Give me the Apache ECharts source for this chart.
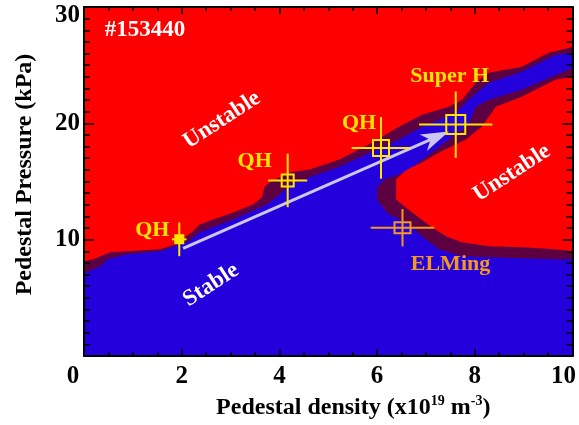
<!DOCTYPE html>
<html><head><meta charset="utf-8">
<script src="https://cdn.jsdelivr.net/npm/echarts@6/dist/echarts.min.js"></script>
<style>html,body{margin:0;padding:0;background:#fff}#c{width:579px;height:425px}</style>
</head><body><div id="c"></div>
<script>
// ---- data ----
const xTicks = [0, 2, 4, 6, 8, 10];
const yTicks = [10, 20, 30];
// outer edge of marginally stable band (stable + marginal)
const marginalRegion = [
  [0,0],[0,8.14],[0.19,8.31],[0.54,8.91],[0.89,9.00],[1.56,9.17],[1.87,9.60],[2.21,10.63],
  [2.37,11.31],[2.64,11.74],[3.05,12.34],[3.46,13.03],[3.64,13.63],[3.70,14.57],[3.80,14.91],
  [4.21,15.77],[4.62,16.03],[5.23,16.89],[5.90,18.34],[6.45,19.71],[6.92,20.74],[7.47,21.43],
  [7.74,22.03],[8.02,23.49],[8.29,24.34],[8.96,24.86],[9.51,26.06],[10,26.57],
  [10,24.0],[9.65,23.74],[8.96,22.29],[8.43,21.43],[8.14,19.71],[7.82,18.60],[7.27,17.49],
  [6.92,16.63],[6.60,16.03],[6.39,15.17],[6.39,13.46],[6.51,13.03],[6.72,12.34],[7.12,11.06],
  [7.41,10.29],[7.74,9.77],[8.29,9.43],[8.96,9.34],[9.65,9.17],[10,9.0],[10,0]
];
// stable region
const stableRegion = [
  [0,0],[0,7.11],[0.34,7.71],[0.48,8.31],[0.89,8.74],[1.56,9.00],[2.11,9.77],[2.37,10.63],
  [3.05,11.74],[3.74,13.03],[4.01,13.89],[4.21,14.74],[5.23,16.29],[5.90,17.57],[6.45,18.60],
  [6.92,19.71],[7.61,20.91],[7.94,22.29],[8.29,23.49],[8.96,24.43],[9.65,25.88],[10,26.06],
  [10,24.77],[8.96,22.89],[8.29,22.03],[8.02,21.43],[7.88,19.89],[7.47,18.60],[7.06,17.31],
  [6.80,16.46],[6.45,15.60],[6.15,15.17],[6.00,14.49],[6.00,13.46],[6.15,12.60],[6.25,12.17],
  [6.60,11.49],[6.92,10.29],[7.27,9.17],[7.74,8.57],[8.29,8.49],[8.96,8.40],[9.65,8.31],
  [10,8.31],[10,0]
];
const pointNames = ['QH', 'QH', 'QH', 'Super H', 'ELMing'];
const pointX = [1.95, 4.17, 6.08, 7.61, 6.52];
const pointY = [10.03, 15.09, 17.89, 19.89, 11.03];
const xErr = [0.15, 0.40, 0.60, 0.75, 0.65];
const yErr = [1.45, 2.30, 2.65, 2.85, 1.60];
const trendArrow = [[2.03, 9.26], [7.47, 19.29]];

// ---- styles ----
const FONT = '"Liberation Serif", "Times New Roman", serif';
const YEL = '#FFE600', ORG = '#F39A1E';
const markerStyles = [
  {color: YEL, w: 8, h: 8, filled: true, dx: -27, dy: -9},
  {color: YEL, w: 12, h: 12, filled: false, dx: -33, dy: -19},
  {color: YEL, w: 16, h: 16, filled: false, dx: -22, dy: -25},
  {color: YEL, w: 19, h: 19, filled: false, dx: -6, dy: -48},
  {color: ORG, w: 16, h: 11, filled: false, dx: 48, dy: 37}
];

const chart = echarts.init(document.getElementById('c'), null, {renderer: 'canvas'});

function polySeries(pts, color, z) {
  return {
    type: 'custom', coordinateSystem: 'cartesian2d', silent: true, z: z, clip: true,
    data: [[pts[0][0], pts[0][1]]],
    renderItem: (p, api) => ({
      type: 'polygon',
      shape: {points: pts.map(q => api.coord(q))},
      style: {fill: color}
    })
  };
}

const lab = (extra) => Object.assign({fontFamily: FONT, fontWeight: 'bold', fontSize: 25, color: '#000'}, extra || {});

const axisCommon = {
  type: 'value', z: 10,
  axisLine: {show: true, onZero: false, lineStyle: {color: '#000', width: 2}},
  splitLine: {show: false}
};

const option = {
  animation: false,
  backgroundColor: '#fff',
  grid: {left: 84, right: 5, top: 7, bottom: 68, backgroundColor: '#FF0000', show: true, borderWidth: 0},
  xAxis: [
    Object.assign({}, axisCommon, {
      position: 'bottom', min: xTicks[0], max: xTicks[xTicks.length - 1], interval: xTicks[1] - xTicks[0],
      axisTick: {show: true, inside: true, length: 7, lineStyle: {color: '#000', width: 1.5}},
      minorTick: {show: true, splitNumber: 4, length: 4, lineStyle: {color: '#000', width: 1.5}},
      axisLabel: lab({margin: 8, formatter: v => v === 0 ? '{m|0}' : (v === 10 ? '{n|10}' : String(v)),
        rich: {m: lab({padding: [0, 22, 0, 0]}), n: lab({padding: [0, 18, 0, 0]})}}),
      name: '{a|Pedestal density (x10}{s|19}{a| m}{s|-3}{a|)}',
      nameLocation: 'middle', nameGap: 38,
      nameTextStyle: {padding: [0, 0, 0, 50], rich: {
        a: {fontFamily: FONT, fontWeight: 'bold', fontSize: 24, color: '#000', lineHeight: 26, verticalAlign: 'bottom'},
        s: {fontFamily: FONT, fontWeight: 'bold', fontSize: 14, color: '#000', lineHeight: 26, verticalAlign: 'top'}
      }}
    }),
    Object.assign({}, axisCommon, {
      position: 'top', min: 0, max: 10, interval: 2,
      axisTick: {show: true, inside: true, length: 7, lineStyle: {color: '#000', width: 1.5}},
      minorTick: {show: true, splitNumber: 4, length: 4, lineStyle: {color: '#000', width: 1.5}},
      axisLabel: {show: false}
    })
  ],
  yAxis: [
    Object.assign({}, axisCommon, {
      position: 'left', min: 0, max: yTicks[yTicks.length - 1], interval: yTicks[1] - yTicks[0],
      axisTick: {show: true, inside: true, length: 10, lineStyle: {color: '#000', width: 1.5}},
      minorTick: {show: true, splitNumber: 10, length: 6, lineStyle: {color: '#000', width: 1.5}},
      axisLabel: lab({margin: 4, formatter: v => v === 0 ? '' : (v === 30 ? '{t|30}' : String(v)),
        rich: {t: lab({padding: [18, 0, 0, 0]})}}),
      name: 'Pedestal Pressure (kPa)', nameLocation: 'middle', nameGap: 47, nameRotate: 90,
      nameTextStyle: {fontFamily: FONT, fontWeight: 'bold', fontSize: 24, color: '#000', padding: [0, 0, 0, 14]}
    }),
    Object.assign({}, axisCommon, {
      position: 'right', min: 0, max: 30, interval: 10,
      axisTick: {show: true, inside: true, length: 10, lineStyle: {color: '#000', width: 1.5}},
      minorTick: {show: true, splitNumber: 10, length: 6, lineStyle: {color: '#000', width: 1.5}},
      axisLabel: {show: false}
    })
  ],
  graphic: [
    {type: 'text', x: 145, y: 30, z: 100, style: {text: '#153440', fill: '#fff', font: 'bold 23px ' + FONT, align: 'center', verticalAlign: 'middle'}},
    {type: 'text', x: 222, y: 120, z: 100, rotation: 33 * Math.PI / 180, style: {text: 'Unstable', fill: '#fff', font: 'bold 23px ' + FONT, align: 'center', verticalAlign: 'middle'}},
    {type: 'text', x: 211, y: 285, z: 100, rotation: 33 * Math.PI / 180, style: {text: 'Stable', fill: '#fff', font: 'bold 23px ' + FONT, align: 'center', verticalAlign: 'middle'}},
    {type: 'text', x: 512, y: 173, z: 100, rotation: 33 * Math.PI / 180, style: {text: 'Unstable', fill: '#fff', font: 'bold 23px ' + FONT, align: 'center', verticalAlign: 'middle'}}
  ],
  series: [
    polySeries(marginalRegion, '#5C0042', 2),
    polySeries(stableRegion, '#2300DC', 3),
    {
      type: 'custom', coordinateSystem: 'cartesian2d', silent: true, z: 5,
      data: [[trendArrow[0][0], trendArrow[0][1], trendArrow[1][0], trendArrow[1][1]]],
      renderItem: (p, api) => {
        const p1 = api.coord([api.value(0), api.value(1)]);
        const p2 = api.coord([api.value(2), api.value(3)]);
        const a = Math.atan2(p2[1] - p1[1], p2[0] - p1[0]);
        const cx = Math.cos(a), cy = Math.sin(a), nx = -cy, ny = cx;
        const L = 28, W = 9;
        const back = [p2[0] - L * cx, p2[1] - L * cy];
        const notch = [p2[0] - L * 0.72 * cx, p2[1] - L * 0.72 * cy];
        return {type: 'group', children: [
          {type: 'line', shape: {x1: p1[0], y1: p1[1], x2: notch[0], y2: notch[1]}, style: {stroke: '#CCC6F4', lineWidth: 3}},
          {type: 'polygon', shape: {points: [p2, [back[0] + nx * W, back[1] + ny * W], notch, [back[0] - nx * W, back[1] - ny * W]]}, style: {fill: '#CCC6F4'}}
        ]};
      }
    },
    {
      type: 'custom', coordinateSystem: 'cartesian2d', silent: true, z: 6,
      data: pointX.map((x, i) => [x, pointY[i], xErr[i], yErr[i]]),
      renderItem: (params, api) => {
        const i = params.dataIndex;
        const x = api.value(0), y = api.value(1), ex = api.value(2), ey = api.value(3);
        const c = api.coord([x, y]), l = api.coord([x - ex, y]), r = api.coord([x + ex, y]);
        const t = api.coord([x, y + ey]), b = api.coord([x, y - ey]);
        const s = markerStyles[i];
        return {type: 'group', children: [
          {type: 'line', shape: {x1: l[0], y1: l[1], x2: r[0], y2: r[1]}, style: {stroke: s.color, lineWidth: 2}},
          {type: 'line', shape: {x1: t[0], y1: t[1], x2: b[0], y2: b[1]}, style: {stroke: s.color, lineWidth: 2}},
          {type: 'rect', shape: {x: c[0] - s.w / 2, y: c[1] - s.h / 2, width: s.w, height: s.h},
            style: {fill: s.filled ? s.color : 'none', stroke: s.color, lineWidth: 2}},
          {type: 'text', x: c[0] + s.dx, y: c[1] + s.dy,
            style: {text: pointNames[i], fill: s.color, font: 'bold 22px ' + FONT, align: 'center', verticalAlign: 'middle'}}
        ]};
      }
    }
  ]
};
chart.setOption(option);
</script>
</body></html>
